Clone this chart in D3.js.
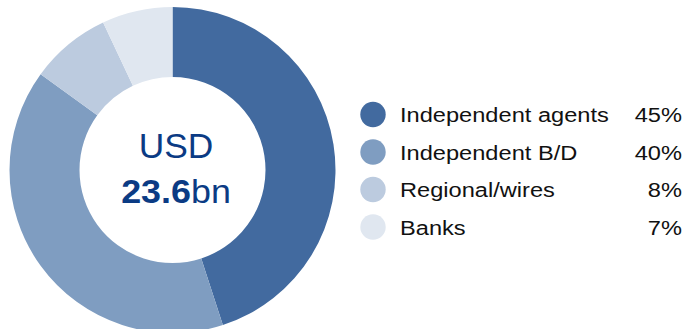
<!DOCTYPE html>
<html>
<head>
<meta charset="utf-8">
<script src="https://cdn.jsdelivr.net/npm/d3@7"></script>
<style>
  html, body { margin: 0; padding: 0; background: #fff; }
  svg { display: block; font-family: "Liberation Sans", Arial, sans-serif; }
</style>
</head>
<body>
<svg id="chart" width="687" height="329"></svg>
<script>
// Distribution channel shares of the total
const categories = ["Independent agents", "Independent B/D", "Regional/wires", "Banks"];
const shares = [45, 40, 8, 7];
const shareLabels = ["45%", "40%", "8%", "7%"];
const colors = ["#426a9f", "#7f9dc1", "#bccbdf", "#e0e7f0"];
const totalLine1 = "USD";
const totalValue = "23.6";
const totalUnit = "bn";

const svg = d3.select("#chart");
const cx = 172.5, cy = 170, outerR = 163, innerR = 93;

const data = categories.map((c, i) => ({ name: c, value: shares[i], label: shareLabels[i], color: colors[i] }));

const pie = d3.pie().value(d => d.value).sort(null);
const arc = d3.arc().innerRadius(innerR).outerRadius(outerR);

const g = svg.append("g").attr("transform", `translate(${cx},${cy})`);
g.selectAll("path")
  .data(pie(data))
  .join("path")
  .attr("d", arc)
  .attr("fill", d => d.data.color);

// Total in the hole
const centre = svg.append("g").attr("transform", `translate(${cx + 3.5},${cy})`)
  .attr("fill", "#0b3b84").attr("text-anchor", "middle");
centre.append("text").attr("y", -12).attr("font-size", 35).attr("transform", "scale(1.01,1)").text(totalLine1);
const t2 = centre.append("text").attr("y", 33).attr("font-size", 34).attr("transform", "scale(1.055,1)");
t2.append("tspan").attr("font-weight", "bold").text(totalValue);
t2.append("tspan").text(totalUnit);

// Legend: text set slightly wide
const stretch = 1.125;
const rowY = d3.scalePoint().domain(categories).range([114.5, 227]);
const legend = svg.append("g");
const rows = legend.selectAll("g").data(data).join("g")
  .attr("transform", d => `translate(0,${rowY(d.name)})`);
rows.append("circle").attr("cx", 373).attr("cy", 0).attr("r", 12.7).attr("fill", d => d.color);
rows.append("text").attr("transform", `translate(400,7.5) scale(${stretch},1)`)
  .attr("font-size", 21).attr("fill", "#111").text(d => d.name);
rows.append("text").attr("transform", `translate(682,7.5) scale(${stretch},1)`)
  .attr("font-size", 21).attr("fill", "#111").attr("text-anchor", "end").text(d => d.label);
</script>
</body>
</html>
